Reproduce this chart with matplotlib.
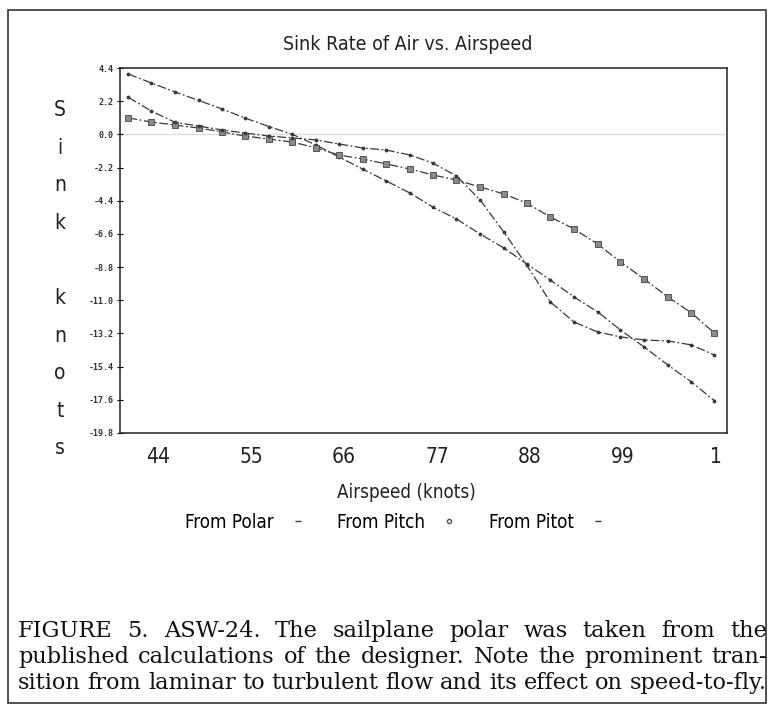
import matplotlib.pyplot as plt
from matplotlib.lines import Line2D
from matplotlib.patches import Rectangle

# airspeed (knots) of each sample point
airspeed = [40.5, 43.2, 46.0, 48.8, 51.6, 54.3, 57.1, 59.9, 62.7, 65.4, 68.2, 71.0, 73.8,
            76.5, 79.3, 82.1, 84.9, 87.6, 90.4, 93.2, 96.0, 98.7, 101.5, 104.3, 107.1, 109.8]

from_polar = [4.00, 3.41, 2.81, 2.25, 1.68, 1.08, 0.52, 0.00, -0.71, -1.50, -2.30, -3.09, -3.89,
              -4.82, -5.61, -6.61, -7.53, -8.59, -9.65, -10.78, -11.77, -12.97, -14.10,
              -15.29, -16.42, -17.65]
from_pitch = [1.09, 0.82, 0.62, 0.42, 0.16, -0.11, -0.31, -0.51, -0.90, -1.37, -1.63, -1.96,
              -2.30, -2.69, -3.03, -3.49, -3.95, -4.55, -5.48, -6.27, -7.27, -8.46, -9.59,
              -10.78, -11.84, -13.17]
from_pitot = [2.45, 1.55, 0.80, 0.55, 0.29, 0.09, -0.11, -0.24, -0.37, -0.64, -0.90, -1.04,
              -1.37, -1.90, -2.76, -4.35, -6.47, -8.66, -11.11, -12.44, -13.10, -13.43,
              -13.63, -13.70, -13.96, -14.63]

x_ticks = [44, 55, 66, 77, 88, 99, 110]
x_labels = ['44', '55', '66', '77', '88', '99', '1']
y_ticks = [4.4, 2.2, 0.0, -2.2, -4.4, -6.6, -8.8, -11.0, -13.2, -15.4, -17.6, -19.8]
y_labels = ['4.4', '2.2', '0.0', '-2.2', '-4.4', '-6.6', '-8.8', '-11.0', '-13.2',
            '-15.4', '-17.6', '-19.8']

caption = ['FIGURE 5. ASW-24. The sailplane polar was taken from the',
           'published calculations of the designer. Note the prominent tran-',
           'sition from laminar to turbulent flow and its effect on speed-to-fly.']
caption_right = [767, 767, 767]

W, H = 772, 710
fig = plt.figure(figsize=(W / 100, H / 100), dpi=100)


def fx(px):
    return px / W


def fy(py):
    return 1 - py / H


cond = dict(family='DejaVu Sans', stretch='condensed', color='#222222')

ax = fig.add_axes([fx(120), fy(433), fx(727) - fx(120), fy(68) - fy(433)])

ax.axhline(0, color='#dddddd', lw=1, zorder=0)
ls = (0, (7, 2, 1.5, 2))
ax.plot(airspeed, from_polar, color='#3a3a3a', lw=0.9, ls=ls, marker='.', ms=3.5)
ax.plot(airspeed, from_pitch, color='#3a3a3a', lw=0.9, ls=ls, marker='s', ms=4,
        mfc='#8a8a8a', mec='#444444', mew=0.6)
ax.plot(airspeed, from_pitot, color='#3a3a3a', lw=0.9, ls=ls, marker='.', ms=3.5)

ax.set_xlim(39.5, 111.3)
ax.set_ylim(-19.8, 4.4)
ax.set_xticks(x_ticks)
ax.set_xticklabels(x_labels, fontsize=15, **cond)
ax.set_yticks(y_ticks)
ax.set_yticklabels(y_labels, family='DejaVu Sans Mono', fontsize=6, weight='bold',
                   color='#333333')
ax.tick_params(axis='x', length=0, pad=10)
ax.tick_params(axis='y', direction='inout', length=5, width=0.8, pad=2)
for s in ax.spines.values():
    s.set_linewidth(1.1)
    s.set_color('#222222')

fig.text(fx(408), fy(44), 'Sink Rate of Air vs. Airspeed', ha='center', va='center',
         fontsize=14, **cond)
fig.text(fx(406), fy(493), 'Airspeed (knots)', ha='center', va='center', fontsize=13.5, **cond)

# y label drawn as stacked letters
ylab = 'Sink knots'
for i, ch in enumerate(ylab):
    fig.text(fx(60), fy(110 + i * 37.6), ch, ha='center', va='center', fontsize=15, **cond)

handles = [Line2D([], [], color='#3a3a3a', marker='_', ms=4, ls='none'),
           Line2D([], [], color='#555555', marker='o', ms=3, mfc='white', ls='none'),
           Line2D([], [], color='#3a3a3a', marker='_', ms=4, ls='none')]
leg = fig.legend(handles, ['From Polar', 'From Pitch', 'From Pitot'], ncol=3,
                 markerfirst=False, frameon=False, handlelength=1.0, columnspacing=1.6,
                 loc='center', bbox_to_anchor=(fx(396), fy(522)),
                 prop=dict(family='DejaVu Sans', stretch='condensed', size=13.5))

# outer border of the figure
fig.patches.append(Rectangle((fx(8), fy(703)), fx(766) - fx(8), fy(10) - fy(703),
                             transform=fig.transFigure, fill=False, lw=1.2,
                             edgecolor='#333333'))

# caption, justified word by word between x=18 and the right edge
renderer = fig.canvas.get_renderer()
left = 18
for i, line in enumerate(caption):
    words = line.split(' ')
    texts, widths = [], []
    for w in words:
        t = fig.text(0, fy(637 + i * 26), w, ha='left', va='baseline',
                     family='DejaVu Serif', fontsize=16.2, color='#111111')
        texts.append(t)
        widths.append(t.get_window_extent(renderer).width)
    gap = (caption_right[i] - left - sum(widths)) / (len(words) - 1)
    x = left
    for t, wd in zip(texts, widths):
        t.set_x(fx(x))
        x += wd + gap

fig.savefig('out.png', dpi=100)
